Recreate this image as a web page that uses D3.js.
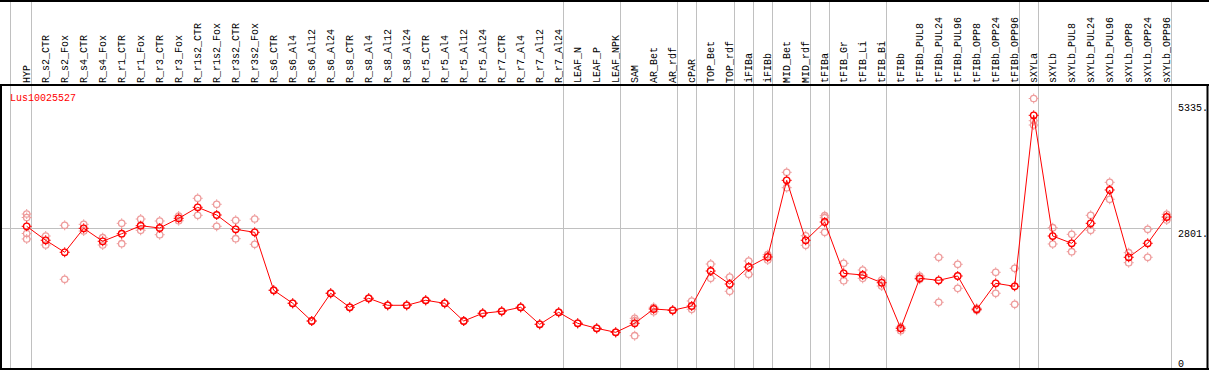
<!DOCTYPE html>
<html>
<head>
<meta charset="utf-8">
<script src="https://cdn.jsdelivr.net/npm/d3@7"></script>
<style>
html,body{margin:0;padding:0;background:#fff;}
svg{display:block;}
text{font-family:"Liberation Mono","DejaVu Sans Mono",monospace;font-size:10px;}
</style>
</head>
<body>
<svg id="chart" width="1209" height="370"></svg>
<script>
const title = "Lus10025527";
const categories = ["HYP","R_s2_CTR","R_s2_Fox","R_s4_CTR","R_s4_Fox","R_r1_CTR","R_r1_Fox","R_r3_CTR","R_r3_Fox","R_r1s2_CTR","R_r1s2_Fox","R_r3s2_CTR","R_r3s2_Fox","R_s6_CTR","R_s6_Al4","R_s6_Al12","R_s6_Al24","R_s8_CTR","R_s8_Al4","R_s8_Al12","R_s8_Al24","R_r5_CTR","R_r5_Al4","R_r5_Al12","R_r5_Al24","R_r7_CTR","R_r7_Al4","R_r7_Al12","R_r7_Al24","LEAF_N","LEAF_P","LEAF_NPK","SAM","AR_Bet","AR_rdf","cPAR","TOP_Bet","TOP_rdf","iFIBa","iFIBb","MID_Bet","MID_rdf","tFIBa","tFIB_Gr","tFIB_Li","tFIB_Bi","tFIBb","tFIBb_PUL8","tFIBb_PUL24","tFIBb_PUL96","tFIBb_OPP8","tFIBb_OPP24","tFIBb_OPP96","sXYLa","sXYLb","sXYLb_PUL8","sXYLb_PUL24","sXYLb_PUL96","sXYLb_OPP8","sXYLb_OPP24","sXYLb_OPP96"];
const means = [2831,2552,2312,2791,2532,2683,2843,2797,2991,3211,3057,2771,2711,1553,1293,939,1493,1213,1393,1253,1253,1353,1293,939,1093,1133,1213,873,1113,893,793,713,893,1179,1153,1239,1938,1678,2018,2218,3750,2552,2917,1892,1858,1704,793,1792,1752,1838,1173,1692,1632,5049,2637,2492,2891,3557,2212,2492,3017];
const replicates = [
 [3077,3007,2687,2578],[2637,2458],[2851,1772],[2871,2737],[2604,2458],[2891,2484],[2977,2751],[2937,2663],[3037,2943],[3391,3051],[3271,2831],[2951,2584],[2977,2472],
 [1553,1553],[1293,1293],[939,939],[1493,1493],[1213,1213],[1393,1393],[1253,1253],[1253,1253],[1353,1353],[1293,1293],[939,939],[1093,1093],[1133,1133],[1213,1213],[873,873],[1113,1113],[893,893],[793,793],[713,713],
 [993,945,645],[1213,1125],[1153,1153],[1339,1173],[2078,1792],[1818,1533],[2138,1872],[2264,2158],[3910,3603],[2643,2452],[3043,3003,2711],[2092,1744],[1958,1792],[1758,1638],[745,819],[1838,1772],[2212,1313],[2072,1592],[1193,1153],[1912,1493],[1992,1273],[5385,4941,4855],[2803,2478],[2671,2324],[3051,2751],[3710,3371],[2304,2104],[2771,2212],[3071,2957]
];
const groupEnds = ["HYP","R_r7_Al24","LEAF_NPK","AR_rdf","cPAR","TOP_rdf","iFIBa","iFIBb","MID_rdf","tFIBa","tFIB_Bi","tFIBb_OPP96","sXYLa","sXYLb_OPP96"];
const tickValues = [0, 2801, 5335];
const tickLabels = ["0", "2801.", "5335."];
const refValue = 2801;

const svg = d3.select("#chart");
const W = 1209, H = 370;
const headerY = 85, bottomY = 369, rightX = 1207;

const x = d3.scalePoint().domain(categories).range([26.7, 26.7 + 19 * (categories.length - 1)]);
const y = d3.scaleLinear().domain([0, 5335]).range([368, 101]);

const gray = "#c0c0c0", pink = "#ee9c9c", red = "#ff0000";

// vertical group separators
svg.append("line").attr("x1", 10.5).attr("x2", 10.5).attr("y1", 0).attr("y2", bottomY).attr("stroke", gray);
svg.selectAll("line.grp").data(groupEnds).join("line").attr("class","grp")
  .attr("x1", d => Math.round(x(d) + 4) + 0.5).attr("x2", d => Math.round(x(d) + 4) + 0.5)
  .attr("y1", 0).attr("y2", bottomY).attr("stroke", gray);

// horizontal reference line
const yr = Math.round(y(refValue)) + 0.5;
svg.append("line").attr("x1", 2).attr("x2", Math.round(x(categories[categories.length-1]) + 4) + 0.5)
  .attr("y1", yr).attr("y2", yr).attr("stroke", gray);

// borders
svg.append("line").attr("x1", 0).attr("x2", W).attr("y1", 1).attr("y2", 1).attr("stroke", "#000").attr("stroke-width", 2);
svg.append("line").attr("x1", 0).attr("x2", W).attr("y1", headerY).attr("y2", headerY).attr("stroke", "#000").attr("stroke-width", 2);
svg.append("line").attr("x1", 0).attr("x2", W).attr("y1", bottomY).attr("y2", bottomY).attr("stroke", "#000").attr("stroke-width", 2);
svg.append("line").attr("x1", 1).attr("x2", 1).attr("y1", headerY).attr("y2", bottomY+1).attr("stroke", "#000").attr("stroke-width", 2);
svg.append("line").attr("x1", rightX+0.5).attr("x2", rightX+0.5).attr("y1", headerY).attr("y2", bottomY+1).attr("stroke", "#000").attr("stroke-width", 2);

// category labels (rotated)
svg.selectAll("text.cat").data(categories).join("text").attr("class","cat")
  .attr("transform", d => `translate(${x(d) + 3.4},83) rotate(-90)`)
  .attr("fill", "#000").text(d => d);

// title
svg.append("text").attr("x", 10).attr("y", 100.5).attr("fill", red).text(title);

// right tick labels
svg.selectAll("text.tick").data(tickValues).join("text").attr("class","tick")
  .attr("x", 1178).attr("y", d => Math.min(y(d) + 9.5, 366.5)).attr("fill", "#000")
  .text((d, i) => tickLabels[i]);

// marker helper
function marker(g, cx, cy, color, sw) {
  g.append("circle").attr("cx", cx).attr("cy", cy).attr("r", 3.2)
    .attr("fill", "none").attr("stroke", color).attr("stroke-width", sw);
  g.append("path").attr("d", `M${cx},${cy-5}v1.6M${cx},${cy+3.4}v1.6M${cx-5},${cy}h1.6M${cx+3.4},${cy}h1.6`)
    .attr("stroke", color).attr("stroke-width", 1);
}

// replicates
const repG = svg.append("g");
replicates.forEach((reps, i) => {
  reps.forEach(v => marker(repG, x(categories[i]), y(v), pink, 1.3));
});

// mean line
const line = d3.line().x((d, i) => x(categories[i])).y(d => y(d));
svg.append("path").datum(means).attr("d", line).attr("fill", "none").attr("stroke", red).attr("stroke-width", 1);

// means
const meanG = svg.append("g");
means.forEach((v, i) => marker(meanG, x(categories[i]), y(v), red, 1.4));
</script>
</body>
</html>
